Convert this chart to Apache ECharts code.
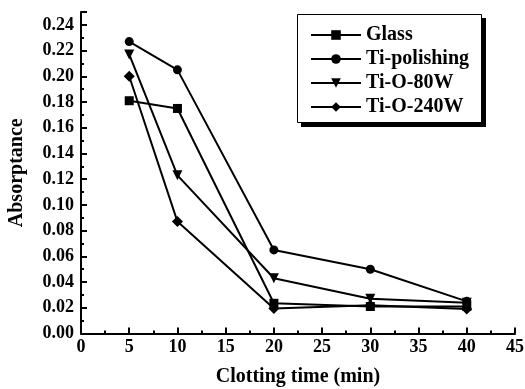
<!DOCTYPE html>
<html>
<head>
<meta charset="utf-8">
<script src="https://cdn.jsdelivr.net/npm/echarts@6/dist/echarts.min.js"></script>
<style>html,body{margin:0;padding:0;background:#fff}#c{width:525px;height:389px}</style>
</head>
<body>
<div id="c"></div>
<script>
const xValues = [5, 10, 20, 30, 40];
const glass = [0.181, 0.175, 0.0235, 0.021, 0.021];
const tiPolishing = [0.227, 0.205, 0.065, 0.050, 0.025];
const tiO80W = [0.217, 0.123, 0.043, 0.027, 0.024];
const tiO240W = [0.200, 0.087, 0.0195, 0.022, 0.019];
const seriesNames = ['Glass', 'Ti-polishing', 'Ti-O-80W', 'Ti-O-240W'];
const xTitle = 'Clotting time (min)';
const yTitle = 'Absorptance';

const FONT = 'Liberation Serif';
const pairs = arr => xValues.map((x, i) => [x, arr[i]]);
const mk = (name, arr, symbol, size, rotate) => ({
  name, type: 'line', data: pairs(arr), symbol, symbolSize: size, symbolRotate: rotate || 0,
  lineStyle: { color: '#000', width: 2 }, itemStyle: { color: '#000' }, animation: false
});

const chart = echarts.init(document.getElementById('c'));
chart.setOption({
  backgroundColor: '#fff',
  animation: false,
  grid: { left: 81, right: 10, top: 12, bottom: 55.5, containLabel: false, outerBoundsMode: 'none' },
  graphic: [
    { type: 'rect', z: 50, shape: { x: 301, y: 18, width: 185, height: 109 }, style: { fill: '#000' } },
    { type: 'rect', z: 51, shape: { x: 297.5, y: 14.5, width: 184, height: 108 }, style: { fill: '#fff', stroke: '#000', lineWidth: 1 } }
  ],
  legend: {
    z: 60,
    orient: 'vertical', left: 297, top: 14,
    padding: [11, 14, 9, 13],
    itemWidth: 50, itemHeight: 12, itemGap: 4,
    textStyle: { fontFamily: FONT, fontWeight: 'bold', fontSize: 20, color: '#000' },
    data: seriesNames
  },
  xAxis: {
    type: 'value', min: 0, max: 45, interval: 5,
    name: xTitle, nameLocation: 'middle', nameGap: 33,
    nameTextStyle: { fontFamily: FONT, fontWeight: 'bold', fontSize: 20, color: '#000' },
    axisLine: { lineStyle: { color: '#000', width: 2 } },
    axisTick: { inside: true, length: 6, lineStyle: { color: '#000', width: 2 } },
    minorTick: { show: true, splitNumber: 2, length: 3, lineStyle: { color: '#000', width: 2 } },
    axisLabel: { fontFamily: FONT, fontWeight: 'bold', fontSize: 18, color: '#000', margin: 5 },
    splitLine: { show: false }
  },
  yAxis: {
    type: 'value', min: 0, max: 0.25, interval: 0.02,
    name: yTitle, nameLocation: 'middle', nameGap: 54,
    nameTextStyle: { fontFamily: FONT, fontWeight: 'bold', fontSize: 20, color: '#000' },
    axisLine: { lineStyle: { color: '#000', width: 2 } },
    axisTick: { inside: true, length: 6, lineStyle: { color: '#000', width: 2 } },
    minorTick: { show: true, splitNumber: 2, length: 3, lineStyle: { color: '#000', width: 2 } },
    axisLabel: { fontFamily: FONT, fontWeight: 'bold', fontSize: 18, color: '#000', margin: 7,
      showMaxLabel: false, formatter: v => v.toFixed(2) },
    splitLine: { show: false }
  },
  series: [
    mk(seriesNames[0], glass, 'rect', 9),
    mk(seriesNames[1], tiPolishing, 'circle', 9),
    mk(seriesNames[2], tiO80W, 'triangle', 10, 180),
    mk(seriesNames[3], tiO240W, 'diamond', 11)
  ]
});
</script>
</body>
</html>
